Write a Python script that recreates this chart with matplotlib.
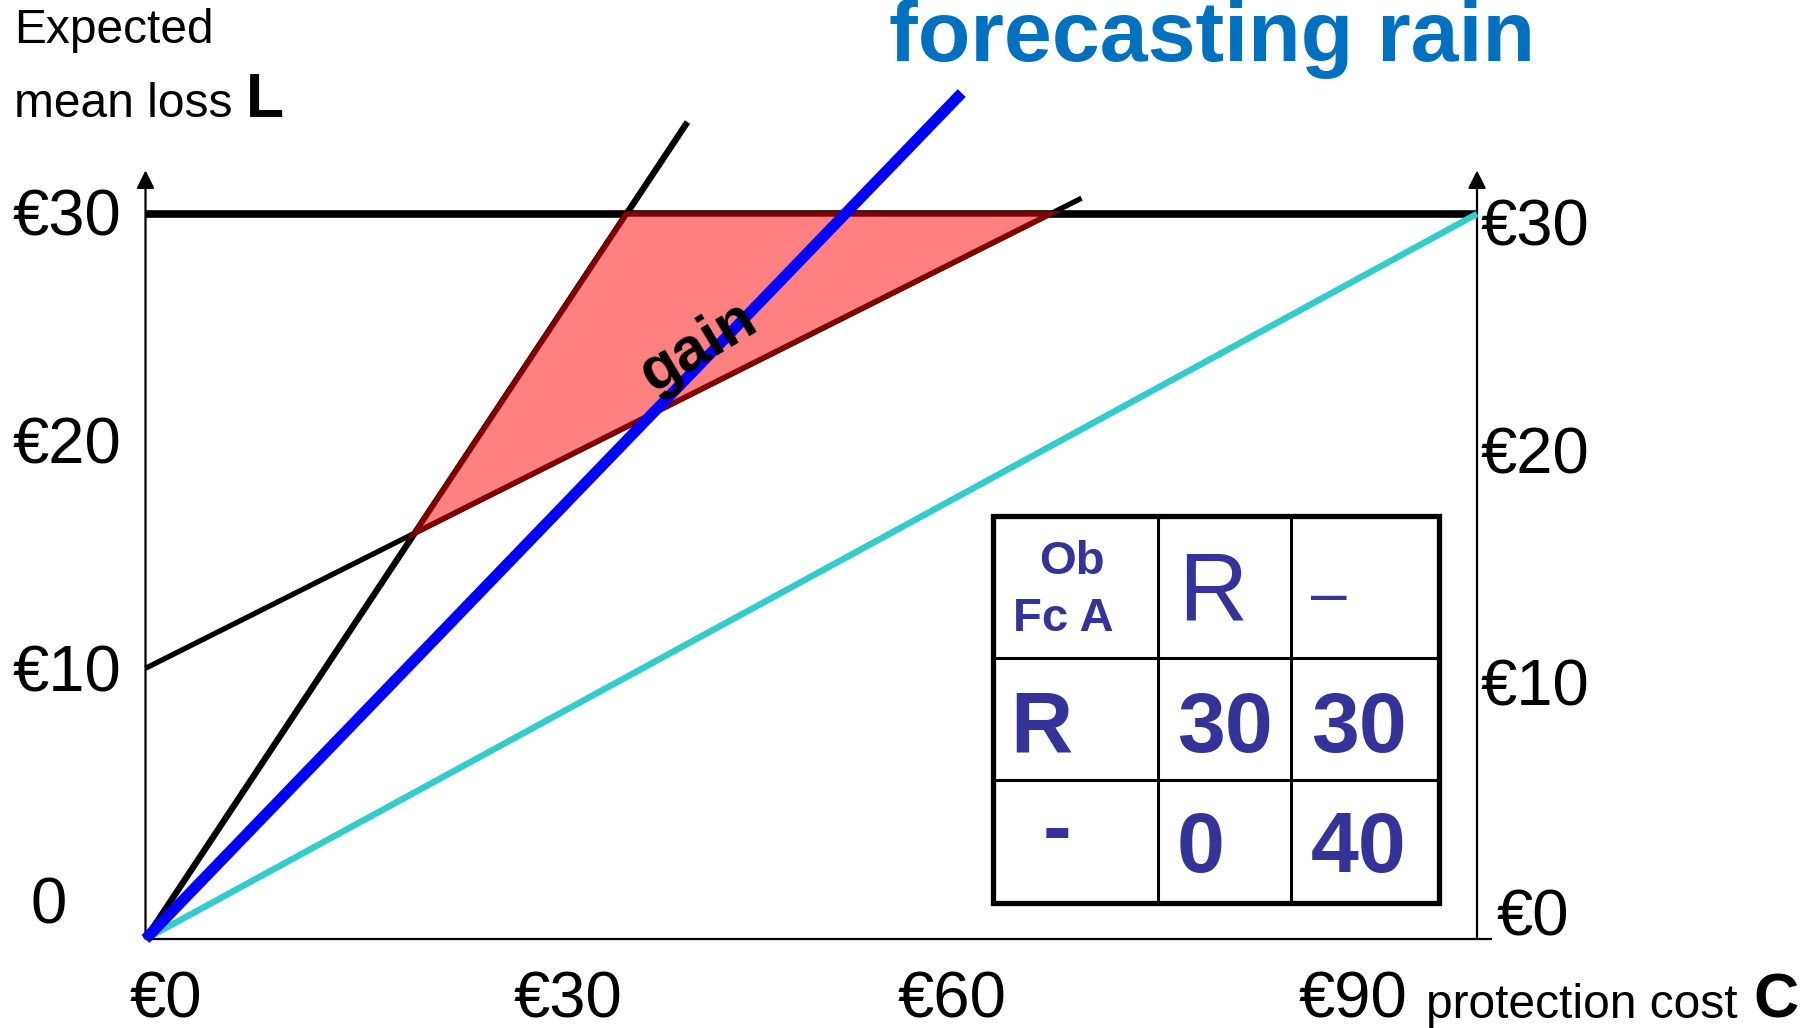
import matplotlib
matplotlib.use("Agg")
import matplotlib.pyplot as plt
from matplotlib.transforms import Affine2D
from matplotlib.patches import Polygon, Rectangle
from matplotlib.lines import Line2D

plt.rcParams['font.family'] = ['Liberation Sans', 'DejaVu Sans']

# ---- data: expected mean loss L against protection cost C (line end points) ----
ref_C = [0, 100]            # climatological loss level
ref_L = [30, 30]
always_C = [0, 40.7]        # steep black line
always_L = [0, 33.8]
mixed_C = [0, 70.3]         # shallow black line
mixed_L = [11.2, 30.65]
forecast_C = [0, 61.3]      # forecasting rain (blue)
forecast_L = [0, 35.0]
perfect_C = [0, 100]        # cyan line
perfect_L = [0, 30]

x_tick_labels = ['€0', '€30', '€60', '€90']
left_tick_labels = ['0', '€10', '€20', '€30']
right_tick_labels = ['€0', '€10', '€20', '€30']

table_corner = ['Ob', 'Fc A']
table_col_headers = ['R', '–']
table_row_headers = ['R', '-']
table_values = [['30', '30'], ['0', '40']]

# ---- figure / coordinate set-up ----
W, H = 1818, 1028
fig = plt.figure(figsize=(W / 100, H / 100), dpi=100)
fig.patch.set_facecolor('white')

origin_px = (145.5, 939.0)
px_per_c = 13.315
px_per_l = 24.17

ax = fig.add_axes([0, 0, 1, 1])
ax.set_xlim(-origin_px[0] / px_per_c, (W - origin_px[0]) / px_per_c)
ax.set_ylim(-(H - origin_px[1]) / px_per_l, origin_px[1] / px_per_l)
ax.axis('off')

# pixel coordinates (top-left origin) for annotation layout
px = Affine2D().scale(1 / W, -1 / H).translate(0, 1) + fig.transFigure

# ---- axes with arrows ----
axis_top = 31.8
axis_right = 100.0
ax.plot([0, 101.1], [0, 0], color='black', lw=1.6, solid_capstyle='butt', zorder=2)
for xa in (0, axis_right):
    ax.annotate('', xy=(xa, axis_top), xytext=(xa, 0),
                arrowprops=dict(arrowstyle='-|>,head_length=0.4,head_width=0.2',
                                mutation_scale=27, lw=1.6, color='black',
                                shrinkA=0, shrinkB=0), zorder=2)

# ---- loss lines ----
ax.plot(ref_C, ref_L, color='black', lw=5.5, solid_capstyle='butt', zorder=3)
ax.plot(always_C, always_L, color='black', lw=4.6, solid_capstyle='butt', zorder=3)
ax.plot(mixed_C, mixed_L, color='black', lw=3.8, solid_capstyle='butt', zorder=3)
ax.plot(perfect_C, perfect_L, color='#33CCCC', lw=4.6, solid_capstyle='butt', zorder=3)


def slope_intercept(cs, ls):
    m = (ls[1] - ls[0]) / (cs[1] - cs[0])
    return m, ls[0] - m * cs[0]


def crossing(a, b):
    (m1, b1), (m2, b2) = slope_intercept(*a), slope_intercept(*b)
    c = (b2 - b1) / (m1 - m2)
    return c, m1 * c + b1


p_low = crossing((always_C, always_L), (mixed_C, mixed_L))
p_left = crossing((always_C, always_L), (ref_C, ref_L))
p_right = crossing((mixed_C, mixed_L), (ref_C, ref_L))
gain = Polygon([p_low, p_left, p_right], closed=True, facecolor='#FF8080',
               edgecolor='#800000', lw=4.0, joinstyle='miter', zorder=4)
ax.add_patch(gain)

fig.text(699, 347, 'gain', transform=px, fontsize=44, fontweight='bold',
         rotation=31, rotation_mode='anchor', ha='center', va='center',
         color='black', zorder=5)

ax.plot(forecast_C, forecast_L, color='#0000FF', lw=8.0, solid_capstyle='butt', zorder=6)

# ---- titles ----
fig.text(889, 61, 'forecasting rain', transform=px, fontsize=62, fontweight='bold',
         color='#0070C0', ha='left', va='baseline')
fig.text(14, 43, 'Expected', transform=px, fontsize=34.5, ha='left', va='baseline')
fig.text(14, 117, 'mean loss', transform=px, fontsize=34.5, ha='left', va='baseline')
fig.text(246, 117, 'L', transform=px, fontsize=45, fontweight='bold', ha='left', va='baseline')

# ---- tick labels ----
left_pos = [(48.7, 924, 'center'), (13, 692, 'left'), (13, 464, 'left'), (13, 235, 'left')]
for (xp, yp, ha), lab in zip(left_pos, left_tick_labels):
    fig.text(xp, yp, lab, transform=px, fontsize=47, ha=ha, va='baseline')

right_pos = [(1533, 936, 'center'), (1481, 705, 'left'), (1481, 474, 'left'), (1481, 245, 'left')]
for (xp, yp, ha), lab in zip(right_pos, right_tick_labels):
    fig.text(xp, yp, lab, transform=px, fontsize=47, ha=ha, va='baseline')

bottom_pos = [166, 568, 952, 1353]
for xp, lab in zip(bottom_pos, x_tick_labels):
    fig.text(xp, 1018, lab, transform=px, fontsize=47, ha='center', va='baseline')
fig.text(1426, 1018, 'protection cost', transform=px, fontsize=34.5, ha='left', va='baseline')
fig.text(1753, 1018, 'C', transform=px, fontsize=45, fontweight='bold', ha='left', va='baseline')

# ---- contingency table ----
tcol = '#333399'
t_left, t_right, t_top, t_bottom = 992.7, 1439.0, 516.0, 902.7
col_lines = [1157.7, 1291.0]
row_lines = [657.7, 780.0]
fig.add_artist(Rectangle((t_left, t_top), t_right - t_left, t_bottom - t_top,
                         transform=px, facecolor='white', edgecolor='black',
                         lw=3.8, joinstyle='miter', zorder=7))
for xc in col_lines:
    fig.add_artist(Line2D([xc, xc], [t_top, t_bottom], transform=px, color='black',
                          lw=2.2, zorder=8))
for yr in row_lines:
    fig.add_artist(Line2D([t_left, t_right], [yr, yr], transform=px, color='black',
                          lw=2.2, zorder=8))

fig.text(1072, 574, table_corner[0], transform=px, fontsize=34, fontweight='bold',
         color=tcol, ha='center', va='baseline', zorder=9)
fig.text(1063, 631, table_corner[1], transform=px, fontsize=34, fontweight='bold',
         color=tcol, ha='center', va='baseline', zorder=9)
fig.text(1178, 621, table_col_headers[0], transform=px, fontsize=69,
         color=tcol, ha='left', va='baseline', zorder=9)
fig.text(1311, 614, table_col_headers[1], transform=px, fontsize=46,
         color=tcol, ha='left', va='baseline', zorder=9)
fig.text(1010, 752, table_row_headers[0], transform=px, fontsize=62, fontweight='bold',
         color=tcol, ha='left', va='baseline', zorder=9)
fig.text(1057.5, 855, table_row_headers[1], transform=px, fontsize=62, fontweight='bold',
         color=tcol, ha='center', va='baseline', zorder=9)
val_x = [1177.0, 1311.0]
val_y = [752.0, 872.0]
for i, row in enumerate(table_values):
    for j, v in enumerate(row):
        fig.text(val_x[j], val_y[i], v, transform=px, fontsize=62, fontweight='bold',
                 color=tcol, ha='left', va='baseline', zorder=9)

fig.savefig('out.png', dpi=100, facecolor='white')
